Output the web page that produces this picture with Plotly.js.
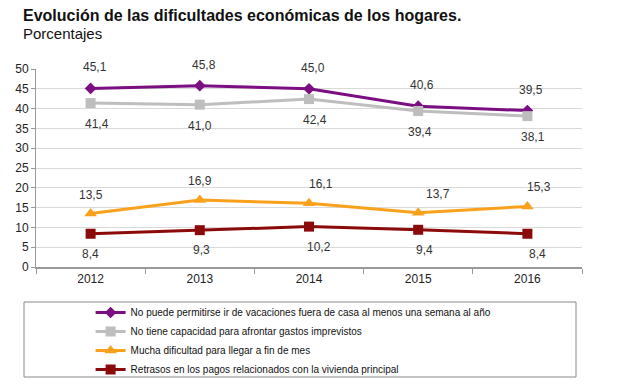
<!DOCTYPE html>
<html>
<head>
<meta charset="utf-8">
<script src="https://cdn.plot.ly/plotly-3.0.1.min.js"></script>
<style>html,body{margin:0;padding:0;background:#fff;}#chart{width:630px;height:389px;}</style>
</head>
<body>
<div id="chart"></div>
<script>
const years = ["2012", "2013", "2014", "2015", "2016"];
const vacaciones = [45.1, 45.8, 45.0, 40.6, 39.5];
const imprevistos = [41.4, 41.0, 42.4, 39.4, 38.1];
const finDeMes = [13.5, 16.9, 16.1, 13.7, 15.3];
const retrasos = [8.4, 9.3, 10.2, 9.4, 8.4];
const seriesNames = [
  "No puede permitirse ir de vacaciones fuera de casa al menos una semana al año",
  "No tiene capacidad para afrontar gastos imprevistos",
  "Mucha dificultad para llegar a fin de mes",
  "Retrasos en los pagos relacionados con la vivienda principal"
];
const yTicks = [0, 5, 10, 15, 20, 25, 30, 35, 40, 45, 50];
const titleText = "Evolución de las dificultades económicas de los hogares.";
const subtitleText = "Porcentajes";

const FONT = "Liberation Sans, Arial, sans-serif";
const styles = [
  {color: "#7B0E80", symbol: "diamond", size: 9, dy: 21, dx: [4,4,4,4,4]},
  {color: "#BEBEBE", symbol: "square", size: 10, dy: -21, dx: [6,0,6,2,6]},
  {color: "#F9A11B", symbol: "triangle-up", size: 11, dy: 19, dx: [0,0,12,20,12]},
  {color: "#8B0A0A", symbol: "square", size: 10, dy: -20, dx: [0,2,10,6,10]}
];
const allSeries = [vacaciones, imprevistos, finDeMes, retrasos];

const fmt = v => v.toFixed(1).replace(".", ",");

const traces = allSeries.map((vals, i) => ({
  x: years, y: vals, name: seriesNames[i], type: "scatter", mode: "lines+markers",
  line: {color: styles[i].color, width: 3},
  marker: {color: styles[i].color, symbol: styles[i].symbol, size: styles[i].size},
  hoverinfo: "skip"
}));

const W = 630, H = 389;
const PW = 546, PH = 198, PL = 36, PB = 267;
const px = v => (v - PL) / PW;
const py = v => (PB - v) / PH;

const annotations = [];
allSeries.forEach((vals, i) => {
  vals.forEach((v, j) => {
    annotations.push({
      x: j, y: v, xref: "x", yref: "y", text: fmt(v), showarrow: false,
      yshift: styles[i].dy, xshift: styles[i].dx[j],
      font: {family: FONT, size: 12, color: "#333"}
    });
  });
});
annotations.push({
  xref: "paper", yref: "paper", x: px(21), y: py(5), xanchor: "left", yanchor: "top",
  text: "<b>" + titleText + "</b>", showarrow: false,
  font: {family: FONT, size: 16, color: "#111"}
});
annotations.push({
  xref: "paper", yref: "paper", x: px(21), y: py(23), xanchor: "left", yanchor: "top",
  text: subtitleText, showarrow: false,
  font: {family: FONT, size: 15, color: "#111"}
});

const layout = {
  width: W, height: H,
  margin: {l: 36, r: 48, t: 69, b: 122},
  paper_bgcolor: "#fff", plot_bgcolor: "#fff",
  showlegend: true,
  xaxis: {
    type: "category", range: [-0.5, 4.5], tickson: "boundaries",
    showline: true, linecolor: "#999", linewidth: 1.5,
    ticks: "outside", ticklen: 5, tickcolor: "#999",
    showgrid: false, zeroline: false,
    tickfont: {family: FONT, size: 12, color: "#222"}
  },
  yaxis: {
    range: [0, 50], tickvals: yTicks, ticktext: yTicks.map(String),
    showline: true, linecolor: "#999", linewidth: 1,
    ticks: "outside", ticklen: 4, tickcolor: "#999",
    showgrid: true, gridcolor: "#d9d9d9", gridwidth: 1, zeroline: false,
    tickfont: {family: FONT, size: 12, color: "#222"}
  },
  legend: {
    xref: "paper", yref: "container",
    x: 0.1, xanchor: "left", y: 1 - 298 / H, yanchor: "top",
    bgcolor: "rgba(0,0,0,0)", borderwidth: 0,
    font: {family: FONT, size: 10, color: "#111"},
    itemwidth: 30, tracegroupgap: 0
  },
  shapes: [{
    type: "rect", xref: "paper", yref: "paper",
    x0: px(24), x1: px(576), y0: py(377), y1: py(302),
    line: {color: "#888", width: 1}, fillcolor: "rgba(0,0,0,0)"
  }],
  annotations: annotations
};

Plotly.newPlot("chart", traces, layout, {staticPlot: true, displayModeBar: false});
</script>
</body>
</html>
